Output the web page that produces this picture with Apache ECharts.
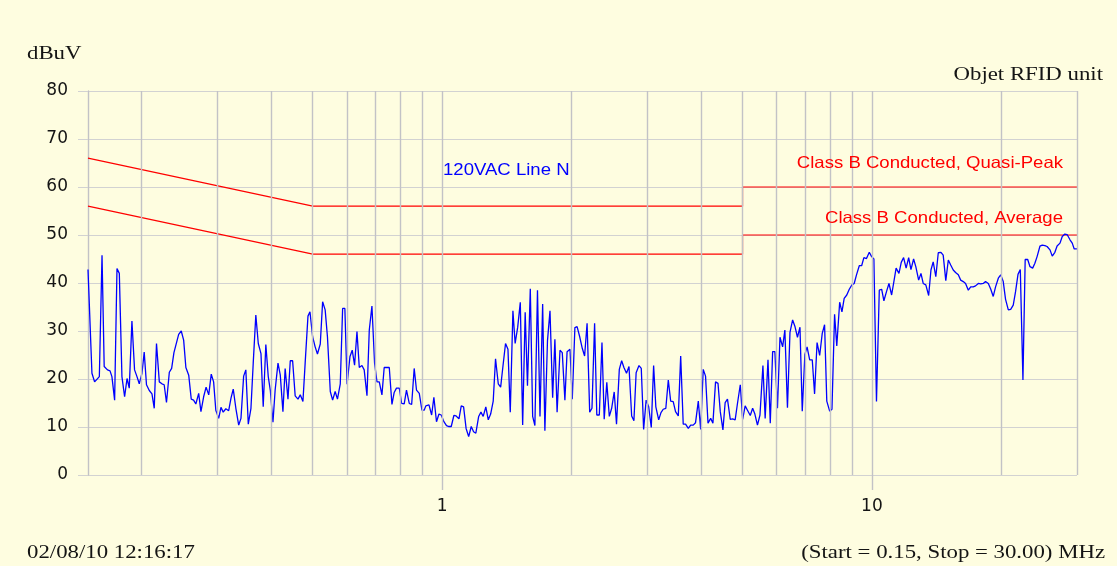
<!DOCTYPE html>
<html><head><meta charset="utf-8">
<script src="https://cdn.jsdelivr.net/npm/echarts@6/dist/echarts.min.js"></script>
<style>html,body{margin:0;padding:0;background:#FEFDE0}#c{width:1117px;height:566px}</style>
</head><body><div id="c"></div>
<script>
// Measured trace: frequency (MHz) and level (dBuV)
const freqMHz = [
0.150,0.1532,0.1554,0.1594,0.1617,0.1636,0.1665,0.1688,0.1705,0.1730,
0.1752,0.1774,0.1799,0.1825,0.1849,0.1871,0.1898,0.1925,0.1950,0.1974,
0.2003,0.2027,0.2052,0.2083,0.2113,0.2139,0.2165,0.2198,0.2229,0.2256,
0.2284,0.2319,0.2348,0.2377,0.2401,0.2438,0.2472,0.2504,0.2534,0.2573,
0.2608,0.2641,0.2673,0.2714,0.2747,0.2787,0.2824,0.2864,0.2903,0.2940,
0.2975,0.3021,0.3058,0.3095,0.3139,0.3187,0.3227,0.3266,0.3312,0.3363,
0.3404,0.3453,0.3494,0.3540,0.3591,0.3635,0.3686,0.3735,0.3789,0.3835,
0.3889,0.3940,0.3983,0.4040,0.4088,0.4151,0.4202,0.4262,0.4313,0.4379,
0.4433,0.4489,0.4551,0.4620,0.4677,0.4744,0.4801,0.4874,0.4926,0.4997,
0.5065,0.5128,0.5206,0.5272,0.5344,0.5410,0.5493,0.5562,0.5638,0.5708,
0.5795,0.5868,0.5939,0.6010,0.6104,0.6178,0.6256,0.6337,0.6416,0.6508,
0.6587,0.6686,0.6769,0.6866,0.6964,0.7054,0.7141,0.7244,0.7332,0.7442,
0.7534,0.7643,0.7735,0.7831,0.7949,0.8051,0.8161,0.8262,0.8386,0.8494,
0.8610,0.8717,0.8848,0.8975,0.9083,0.9164,
0.9320,0.9454,0.9568,0.9703,0.9833,0.9953,1.0095,1.0237,1.0374,1.0501,
1.0650,1.0778,1.0945,1.1079,1.1219,1.1371,1.1529,1.1688,1.1836,1.1979,
1.2163,1.2312,1.2462,1.2638,1.2804,1.2969,1.3148,1.3313,1.3509,1.3683,
1.3850,1.4045,1.4229,1.4406,1.4612,1.4787,1.4992,1.5201,1.5395,1.5604,
1.5798,1.6038,1.6242,1.6438,1.6667,1.6893,1.7135,1.7342,1.7585,1.7823,
1.8078,1.8297,1.8514,1.8804,1.9034,1.9304,1.9532,1.9838,2.0082,2.0366,
2.0607,2.0897,2.1187,2.1454,2.1741,2.2047,2.2318,2.2634,2.2903,2.3212,
2.3546,2.3829,2.4163,2.4489,2.4800,2.5140,2.5454,2.5837,2.6165,2.6483,
2.6854,2.7213,2.7605,2.7940,2.8275,2.8710,2.9064,2.9432,2.9831,3.0242,
3.0663,3.1051,3.1421,3.1906,3.2300,3.2690,3.3151,3.3591,3.4023,3.4489,
3.4921,3.5440,3.5896,3.6387,3.6843,3.7390,3.7871,3.8389,3.8870,3.9447,
3.9955,4.0502,4.1009,4.1552,4.2154,4.2664,4.3266,4.3838,4.4377,4.5012,
4.5555,4.6120,4.6819,4.7415,4.8062,4.8658,4.9395,5.0024,5.0706,5.1335,
5.2113,5.2777,5.3414,5.4160,5.4894,
5.5768,5.6440,5.7303,5.8007,5.8745,5.9455,6.0285,6.1102,6.1978,6.2726,
6.3602,6.4464,6.5388,6.6178,6.7102,6.8012,6.8845,6.9820,7.0647,7.1641,
7.2634,7.3548,7.4535,7.5583,7.6630,7.7595,7.8516,7.9742,8.0721,8.1865,
8.2836,8.4130,8.5163,8.6187,8.7395,8.8575,8.9849,9.0930,9.2063,9.3449,
9.4636,9.5785,9.7130,9.8592,9.9843,10.106,10.247,10.402,10.534,10.662,
10.811,10.956,11.113,11.248,11.383,11.558,11.701,11.849,12.010,12.175,
12.325,12.501,12.650,12.845,13.004,13.161,13.346,13.552,13.719,13.885,
14.081,14.268,14.474,14.649,14.855,15.056,15.250,15.459,15.652,15.886,
16.088,16.310,16.514,16.760,16.974,17.207,17.423,17.682,17.908,18.154,
18.381,18.655,18.893,19.153,19.393,19.682,19.933,20.207,20.460,20.765,
21.029,21.319,21.586,21.870,22.141,22.457,22.728,23.037,23.322,23.656,
23.940,24.225,24.606,24.905,25.257,25.558,25.960,26.275,26.647,26.965,
27.388,27.721,28.113,28.448,28.896,29.246,29.554,30.0
];
const levelDbuv = [
42.8,21.2,19.4,20.5,45.8,22.6,21.9,21.7,20.5,15.6,
43.0,42.0,20.5,16.3,20.1,18.1,32.1,21.9,20.5,19.0,
21.2,25.6,18.8,17.6,16.9,13.9,27.4,19.4,19.0,18.8,
15.1,21.4,22.2,25.5,25.3,29.3,30.0,28.1,22.4,20.8,
15.8,15.6,14.8,17.0,13.2,16.3,18.3,16.7,21.0,19.4,
13.5,11.8,14.1,13.1,13.8,13.4,16.0,17.9,13.9,10.4,
11.8,20.6,21.9,10.6,13.9,23.3,33.3,27.4,25.3,14.2,
27.2,20.5,17.7,11.0,17.7,23.3,20.8,13.2,22.2,15.8,
23.8,23.8,16.5,15.8,16.7,15.3,23.3,33.1,34.0,28.8,
26.7,25.2,27.3,36.1,34.4,28.8,17.4,15.6,17.4,15.8,
19.0,34.7,34.7,18.9,24.7,26.0,22.9,29.9,22.4,22.8,
21.9,16.5,30.2,35.2,23.3,19.4,19.4,16.7,22.4,22.4,
22.4,14.7,17.2,18.1,18.1,14.9,14.8,17.7,14.9,14.7,
22.2,17.7,17.0,13.5,13.5,14.4,
14.6,12.5,16.2,11.1,12.7,12.5,11.1,10.3,10.1,10.1,
12.4,12.3,11.7,14.4,14.2,9.7,8.0,10.1,9.0,8.7,
12.2,13.1,12.2,14.2,11.5,12.7,15.4,24.2,19.0,18.3,
22.6,27.4,26.2,13.1,34.2,27.4,30.8,36.0,10.4,33.9,
18.6,38.8,12.2,10.3,38.5,12.2,35.6,9.2,28.0,34.2,
16.1,28.3,13.1,26.0,25.5,15.6,25.7,26.2,15.8,30.7,
30.9,28.8,26.4,24.8,31.6,13.1,13.9,31.6,12.5,12.5,
27.6,11.6,19.3,12.2,13.9,17.3,10.6,22.0,23.8,22.4,
21.2,22.6,12.3,11.3,21.3,22.8,22.2,9.5,15.6,14.2,
9.9,22.8,14.2,11.5,13.0,13.7,13.9,19.8,15.4,15.3,
13.2,12.3,24.8,10.6,10.6,9.7,10.4,10.4,10.9,15.4,
9.5,22.0,20.6,10.8,11.8,10.8,19.4,19.1,13.2,9.4,
15.1,15.8,11.6,11.7,11.5,14.9,18.8,11.6,14.4,13.5,
12.4,13.9,12.7,10.4,12.5,
22.8,11.8,24.0,10.8,25.7,25.7,13.9,28.7,26.7,30.2,
14.0,29.7,32.3,31.0,28.7,30.8,13.3,25.1,26.7,24.0,
24.0,16.9,27.6,24.9,29.5,31.3,15.4,13.3,13.7,33.5,
26.9,36.0,34.0,36.8,37.5,38.7,39.6,39.9,41.7,43.6,
43.6,45.3,45.1,46.4,45.5,45.0,15.3,38.5,38.7,36.3,
38.2,39.9,37.5,40.3,43.1,42.0,44.3,45.3,43.1,45.3,
42.8,45.0,43.4,40.6,42.0,39.9,39.6,37.4,42.7,44.4,
41.3,46.3,46.4,45.8,40.5,44.8,43.75,42.7,42.2,41.7,
40.6,40.3,39.9,38.5,39.2,39.2,39.4,39.9,39.8,39.9,
40.3,39.9,38.75,37.2,39.2,41.0,41.7,40.3,36.6,34.4,
34.5,35.4,38.2,41.8,42.8,19.8,44.9,44.9,43.4,43.1,
44.1,45.5,47.7,47.9,47.8,47.6,46.9,45.6,46.4,47.7,
48.3,49.7,50.2,50.1,49.0,48.3,47.1,47.1
];
// Limit lines (Class B conducted)
const limitFreq = [0.15, 0.5, 5, 5, 30];
const qpLimit  = [66, 56, 56, 60, 60];
const avgLimit = [56, 46, 46, 50, 50];
// Axis grid / ticks
const gridFreqs = [0.2,0.3,0.4,0.5,0.6,0.7,0.8,0.9,1,2,3,4,5,6,7,8,9,10,20,30];
const xLabelValues = [1, 10];
const yMin = 0, yMax = 80, yStep = 10;

const zip = (a, b) => a.map((v, i) => [v, b[i]]);
const chart = echarts.init(document.getElementById('c'), null, {renderer: 'canvas'});
const bg = '#FEFDE0';
const vGrid = '#c2c2c6', hGrid = '#d2d2d2', txt = '#141414';
chart.setOption({
  backgroundColor: bg,
  animation: false,
  grid: {left: 88, right: 40, top: 91, bottom: 91, containLabel: false},
  xAxis: {
    type: 'log', logBase: 10, min: 0.15, max: 30,
    axisLine: {show: false},
    axisTick: {show: true, customValues: xLabelValues, length: 15, lineStyle: {color: vGrid, width: 1.4}},
    axisLabel: {customValues: xLabelValues, margin: 23, fontSize: 17, fontFamily: 'DejaVu Sans', color: txt,
      formatter: v => String(v)},
    splitLine: {show: false}, minorTick: {show: false}, minorSplitLine: {show: false}
  },
  yAxis: {
    type: 'value', min: yMin, max: yMax, interval: yStep,
    axisLine: {show: true, lineStyle: {color: vGrid, width: 1.4}},
    axisTick: {show: true, length: 10, lineStyle: {color: hGrid}},
    axisLabel: {margin: 20, fontSize: 17, fontFamily: 'DejaVu Sans', color: txt},
    splitLine: {show: true, lineStyle: {color: hGrid, width: 1.2}}
  },
  series: [
    {type: 'line', name: 'grid', data: [], z: 1, silent: true,
      markLine: {silent: true, symbol: ['none', 'none'], animation: false, label: {show: false},
        lineStyle: {color: vGrid, width: 1.4, type: 'solid'},
        emphasis: {disabled: true},
        data: gridFreqs.map(f => ({xAxis: f}))}},
    {type: 'line', name: 'QP', data: zip(limitFreq, qpLimit), showSymbol: false, z: 2,
      lineStyle: {color: '#ff0000', width: 1.2}},
    {type: 'line', name: 'AVG', data: zip(limitFreq, avgLimit), showSymbol: false, z: 2,
      lineStyle: {color: '#ff0000', width: 1.2}},
    {type: 'line', name: 'trace', data: zip(freqMHz, levelDbuv), showSymbol: false, z: 3,
      lineStyle: {color: '#0000ff', width: 1.3}}
  ],
  graphic: [
    {type: 'text', x: 27, y: 54.5, scaleX: 1.2, style: {text: 'dBuV', font: '19px "Liberation Serif"', fill: txt, align: 'left', verticalAlign: 'middle'}},
    {type: 'text', x: 1103, y: 75, scaleX: 1.2, style: {text: 'Objet RFID unit', font: '19px "Liberation Serif"', fill: txt, align: 'right', verticalAlign: 'middle'}},
    {type: 'text', x: 27, y: 553.3, scaleX: 1.2, style: {text: '02/08/10 12:16:17', font: '19px "Liberation Serif"', fill: txt, align: 'left', verticalAlign: 'middle'}},
    {type: 'text', x: 1105, y: 553.3, scaleX: 1.2, style: {text: '(Start = 0.15, Stop = 30.00) MHz', font: '19px "Liberation Serif"', fill: txt, align: 'right', verticalAlign: 'middle'}},
    {type: 'text', x: 443, y: 170, scaleX: 1.125, z: 10, style: {text: '120VAC Line N', font: '16.5px "Liberation Sans"', fill: '#0000ff', align: 'left', verticalAlign: 'middle'}},
    {type: 'text', x: 1063, y: 163, scaleX: 1.125, z: 10, style: {text: 'Class B Conducted, Quasi-Peak', font: '16.5px "Liberation Sans"', fill: '#ff0000', align: 'right', verticalAlign: 'middle'}},
    {type: 'text', x: 1063, y: 218, scaleX: 1.125, z: 10, style: {text: 'Class B Conducted, Average', font: '16.5px "Liberation Sans"', fill: '#ff0000', align: 'right', verticalAlign: 'middle'}}
  ]
});
</script>
</body></html>
